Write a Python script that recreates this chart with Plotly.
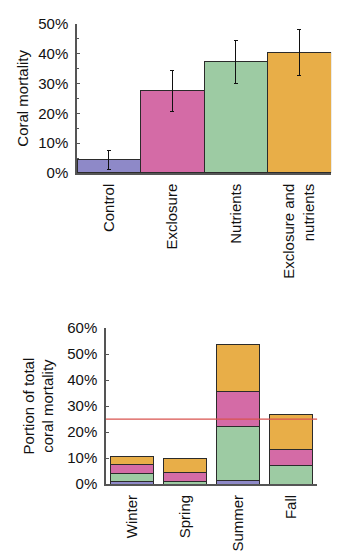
import plotly.graph_objects as go

# Top chart data
treatments = ["Control", "Exclosure", "Nutrients", "Exclosure and<br>nutrients"]
mortality = [4.4, 27.5, 37.2, 40.4]
err_plus = [3.2, 6.8, 7.2, 7.5]
err_minus = [3.1, 6.9, 7.1, 7.7]
top_ticks = [0, 10, 20, 30, 40, 50]
top_tick_labels = ["0%", "10%", "20%", "30%", "40%", "50%"]

# Bottom chart data (stack order bottom -> top)
seasons = ["Winter", "Spring", "Summer", "Fall"]
control_part = [1.2, 0.0, 1.5, 0.0]
nutrients_part = [2.8, 1.0, 20.5, 7.3]
exclosure_part = [3.4, 3.3, 13.7, 6.1]
both_part = [3.4, 5.4, 18.1, 13.2]
reference_level = 25
bottom_ticks = [0, 10, 20, 30, 40, 50, 60]
bottom_tick_labels = ["0%", "10%", "20%", "30%", "40%", "50%", "60%"]

PURPLE = "#8E89C8"
PINK = "#D46BA6"
GREEN = "#9DCBA3"
ORANGE = "#E8AE48"
OUTLINE = "#2b2b2b"
FONT = "Liberation Sans, Arial, Helvetica, sans-serif"

fig = go.Figure()

fig.add_trace(go.Bar(
    x=treatments, y=mortality, width=1,
    marker=dict(color=[PURPLE, PINK, GREEN, ORANGE], line=dict(color=OUTLINE, width=1)),
    error_y=dict(type="data", array=err_plus, arrayminus=err_minus,
                 color="#111111", thickness=1, width=2),
    xaxis="x", yaxis="y", showlegend=False,
))

for vals, col in [(control_part, PURPLE), (nutrients_part, GREEN),
                  (exclosure_part, PINK), (both_part, ORANGE)]:
    fig.add_trace(go.Bar(
        x=seasons, y=vals, width=0.815,
        marker=dict(color=col, line=dict(color=OUTLINE, width=1)),
        xaxis="x2", yaxis="y2", showlegend=False,
    ))

fig.add_shape(type="line", xref="x2 domain", yref="y2", x0=0, x1=1,
              y0=reference_level, y1=reference_level,
              line=dict(color="#D9534F", width=1.2))

axis_common = dict(showline=True, linecolor="#555555", linewidth=1.5,
                   showgrid=False, zeroline=False,
                   tickfont=dict(family=FONT, size=15, color="#111111"))

fig.update_layout(
    width=350, height=560,
    margin=dict(l=0, r=0, t=0, b=0),
    paper_bgcolor="white", plot_bgcolor="white",
    barmode="stack",
    font=dict(family=FONT, size=15, color="#111111"),
    xaxis=dict(domain=[0.22, 0.946], anchor="y", range=[-0.5, 3.5],
               tickangle=-90, ticks="", ticklabelstandoff=3, **axis_common),
    yaxis=dict(domain=[0.698, 0.973], anchor="x", range=[0, 50],
               tickmode="array", tickvals=top_ticks, ticktext=top_tick_labels,
               ticks="inside", ticklen=3, tickcolor="#555555", ticklabelstandoff=4,
               minor=dict(dtick=5, ticks="inside", ticklen=2, tickcolor="#555555"),
               title=dict(text="Coral mortality", font=dict(family=FONT, size=15), standoff=6),
               **axis_common),
    xaxis2=dict(domain=[0.303, 0.906], anchor="y2", range=[-0.5, 3.5],
                tickangle=-90, ticks="", ticklabelstandoff=3, **axis_common),
    yaxis2=dict(domain=[0.125, 0.4125], anchor="x2", range=[0, 60],
                tickmode="array", tickvals=bottom_ticks, ticktext=bottom_tick_labels,
                ticks="inside", ticklen=3, tickcolor="#555555", ticklabelstandoff=4,
                title=dict(text="Portion of total<br>coral mortality",
                           font=dict(family=FONT, size=15), standoff=10),
                **axis_common),
)

fig.write_html("out.html")
